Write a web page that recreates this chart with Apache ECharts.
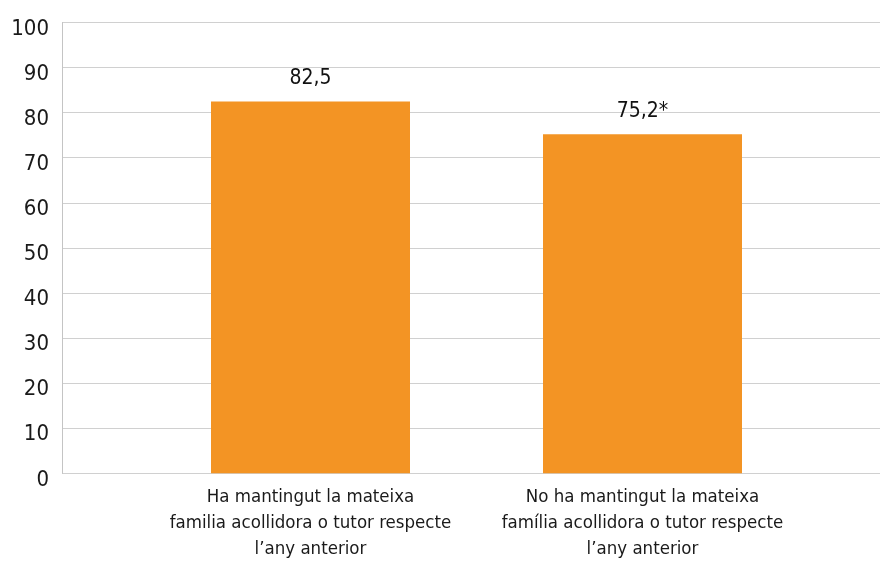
<!DOCTYPE html>
<html>
<head>
<meta charset="utf-8">
<script src="https://cdn.jsdelivr.net/npm/echarts@6/dist/echarts.min.js"></script>
<style>
  html, body { margin: 0; padding: 0; background: #fff; }
  #chart { width: 880px; height: 572px; }
</style>
</head>
<body>
<div id="chart"></div>
<script>
  var categories = [
    'Ha mantingut la mateixa\nfamilia acollidora o tutor respecte\nl\u2019any anterior',
    'No ha mantingut la mateixa\nfam\u00edlia acollidora o tutor respecte\nl\u2019any anterior'
  ];
  var values = [82.5, 75.2];
  var valueLabels = ['82,5', '75,2*'];

  var font = '"Liberation Sans Narrow", "DejaVu Sans Condensed", sans-serif';
  var chart = echarts.init(document.getElementById('chart'));

  var option = {
    animation: false,
    grid: [
      {left: 62, right: 0, top: 22.5, bottom: 98.7},
      {left: 144.5, right: 71.5, top: 22.5, bottom: 98.7}
    ],
    xAxis: [
      {gridIndex: 0, type: 'value', show: false},
      {
        gridIndex: 1,
        type: 'category',
        data: categories,
        axisLine: {show: false},
        axisTick: {show: false},
        axisLabel: {
          interval: 0,
          margin: 11,
          fontFamily: font,
          fontSize: 18.5,
          lineHeight: 26,
          color: '#1a1a1a'
        }
      }
    ],
    yAxis: [
      {
        gridIndex: 0,
        type: 'value',
        min: 0,
        max: 100,
        interval: 10,
        axisLine: {show: true, lineStyle: {color: '#c4c4c4', width: 1}},
        axisTick: {show: false},
        splitLine: {lineStyle: {color: '#d0d0d0', width: 1}},
        axisLabel: {
          margin: 13,
          verticalAlign: 'top',
          lineHeight: 13,
          fontFamily: font,
          fontSize: 22,
          color: '#1a1a1a'
        }
      },
      {gridIndex: 1, type: 'value', min: 0, max: 100, show: false}
    ],
    series: [{
      type: 'bar',
      xAxisIndex: 1,
      yAxisIndex: 1,
      barWidth: 199,
      data: values,
      itemStyle: {color: '#F39424'},
      label: {
        show: true,
        position: 'top',
        distance: 12,
        fontFamily: font,
        fontSize: 21,
        color: '#111',
        formatter: function (p) {
          return valueLabels[p.dataIndex];
        }
      }
    }]
  };

  chart.setOption(option);
</script>
</body>
</html>
